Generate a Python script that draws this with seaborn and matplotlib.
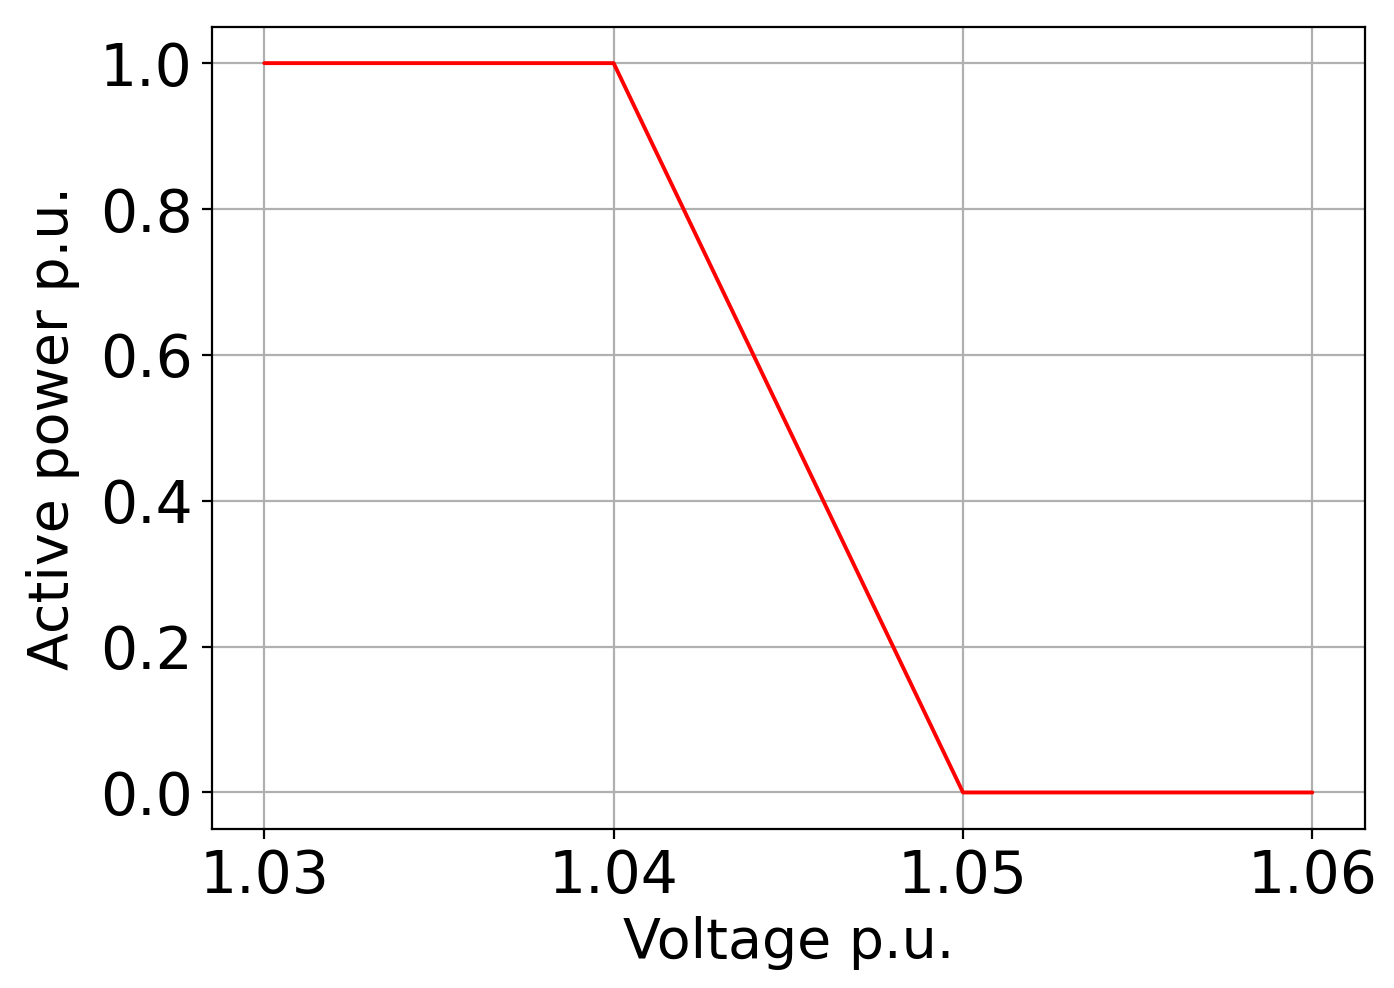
import matplotlib
matplotlib.use("Agg")
import matplotlib.pyplot as plt
import seaborn as sns
import pandas as pd

# droop curve values
voltage = [1.03, 1.04, 1.05, 1.06]
power = [1.0, 1.0, 0.0, 0.0]

df = pd.DataFrame({"voltage": voltage, "power": power})

sns.set_style("ticks")
plt.rcParams['font.family'] = ['DejaVu Sans']
plt.rcParams['font.size'] = 20
plt.rcParams['text.color'] = 'black'
plt.rcParams['axes.labelcolor'] = 'black'
plt.rcParams['xtick.color'] = 'black'
plt.rcParams['ytick.color'] = 'black'
plt.rcParams['axes.edgecolor'] = 'black'

fig = plt.figure(figsize=(6.97, 4.94), dpi=200)
ax = fig.add_axes([0.152, 0.161, 0.827, 0.812])
sns.lineplot(data=df, x="voltage", y="power", color="red", linewidth=1.4, ax=ax)
ax.grid(True, color="#b0b0b0", linewidth=0.8)
ax.set_xticks([1.03, 1.04, 1.05, 1.06])
ax.set_yticks([0.0, 0.2, 0.4, 0.6, 0.8, 1.0])
ax.tick_params(labelsize=21, width=0.8, length=3.5, colors="black")
for s in ax.spines.values():
    s.set_linewidth(0.8)
ax.set_xlabel("Voltage p.u.", fontsize=20)
ax.set_ylabel("Active power p.u.", fontsize=20, labelpad=7)
fig.savefig("out.png", dpi=200)
